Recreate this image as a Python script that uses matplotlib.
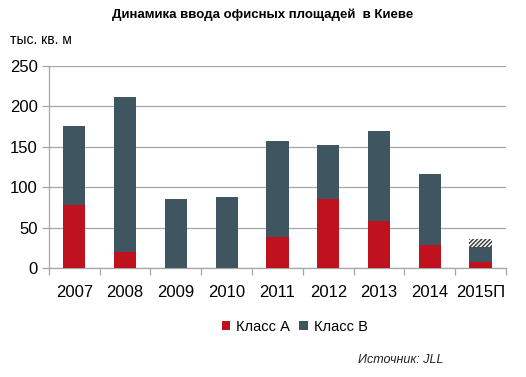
import numpy as np
import matplotlib.pyplot as plt

plt.rcParams['font.family'] = ['Liberation Sans', 'DejaVu Sans']

years = ["2007", "2008", "2009", "2010", "2011", "2012", "2013", "2014", "2015П"]
class_a = [78, 20, 0, 0, 38, 86, 58, 28, 8]
class_b = [98, 192, 85, 88, 119, 66, 112, 88, 18]
# planned remainder for 2015 (hatched part)
plan_2015 = [0, 0, 0, 0, 0, 0, 0, 0, 10]

red = "#C0111F"
slate = "#3F5560"
grey = "#A6A6A6"

fig = plt.figure(figsize=(5.26, 3.77), dpi=100)
ax = fig.add_axes([0.093, 0.289, 0.869, 0.536])

x = np.arange(len(years))
w = 0.44
ax.bar(x, class_a, w, color=red, label="Класс А", zorder=3)
ax.bar(x, class_b, w, bottom=class_a, color=slate, label="Класс В", zorder=3)
bottom_plan = np.array(class_a) + np.array(class_b)
plt.rcParams['hatch.linewidth'] = 1.0
ax.bar(x, plan_2015, w, bottom=bottom_plan, color="white", edgecolor="#333333",
       hatch="////////", linewidth=0, zorder=3)

ax.set_xlim(-0.5, len(years) - 0.5)
ax.set_ylim(0, 250)
ax.set_yticks(range(0, 251, 50))
ax.yaxis.grid(True, color=grey, linewidth=0.9, zorder=0)

ax.set_xticks(x)
ax.set_xticklabels(years)
ax.set_xticks(np.arange(-0.5, len(years), 1), minor=True)
ax.tick_params(axis='x', which='major', length=0, pad=12, labelsize=12)
ax.tick_params(axis='x', which='minor', length=5, color=grey, width=0.9)
ax.tick_params(axis='y', length=5, color=grey, width=0.9, labelsize=12, pad=3)

for s in ["top", "right"]:
    ax.spines[s].set_visible(False)
for s in ["left", "bottom"]:
    ax.spines[s].set_color(grey)
    ax.spines[s].set_linewidth(0.9)

fig.text(0.5, 0.962, "Динамика ввода офисных площадей  в Киеве", ha="center",
         va="center", fontsize=9.5, fontweight="bold")
fig.text(0.019, 0.893, "тыс. кв. м", ha="left", va="center", fontsize=10)

handles, labels = ax.get_legend_handles_labels()
fig.legend(handles[:2], labels[:2], loc="center", bbox_to_anchor=(0.56, 0.133),
           ncol=2, frameon=False, fontsize=10.5, handlelength=0.6, handleheight=0.6,
           handletextpad=0.4, columnspacing=0.6)

fig.text(0.843, 0.045, "Источник: JLL", ha="right", va="center", fontsize=9,
         style="italic", color="#222222")

fig.savefig("out.png", dpi=100)
